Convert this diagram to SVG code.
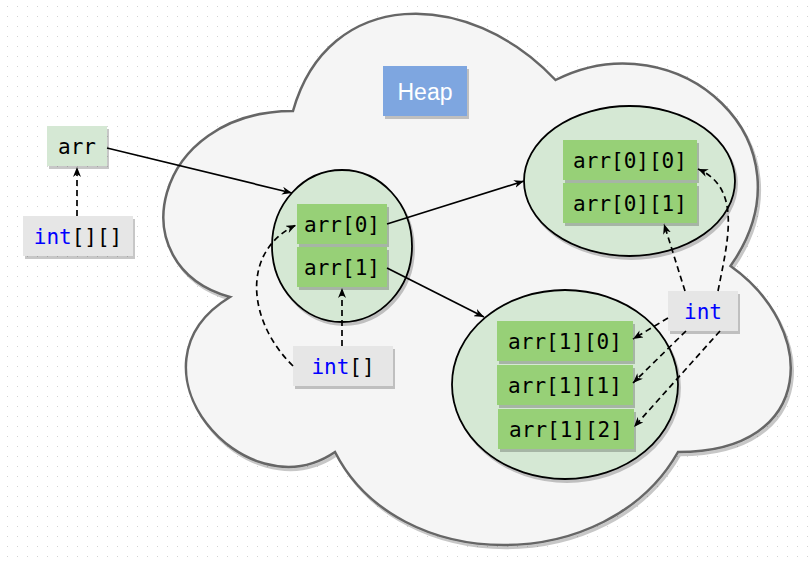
<svg xmlns="http://www.w3.org/2000/svg" width="812" height="562" viewBox="0 0 812 562">
  <defs>
    <pattern id="grid" x="0" y="0" width="10" height="10" patternUnits="userSpaceOnUse">
      <rect x="7" y="6" width="1" height="1" fill="#d4d4d4"/>
    </pattern>
    <filter id="shadow" x="-10%" y="-10%" width="130%" height="130%">
      <feDropShadow dx="2" dy="3" stdDeviation="0.6" flood-color="#000000" flood-opacity="0.22"/>
    </filter>
    <marker id="arrow" viewBox="0 0 10 8" refX="10" refY="4" markerWidth="10" markerHeight="8" markerUnits="userSpaceOnUse" orient="auto">
      <path d="M0,0 L10,4 L0,8 L3,4 Z" fill="#000000"/>
    </marker>
  </defs>
  <style>
    .sh { filter: url(#shadow); }
    .cloud { fill: #f5f5f5; stroke: #666666; stroke-width: 2.5; }
    .ell { fill: #d5e8d4; stroke: #000000; stroke-width: 1.8; }
    .lightgreen { fill: #d5e8d4; }
    .green { fill: #97d077; }
    .gray { fill: #e6e6e6; }
    .blue { fill: #7ea6e0; }
    .mono { font-family: "DejaVu Sans Mono", "Liberation Mono", monospace; font-size: 21px; fill: #000000; text-anchor: middle; }
    .kw { fill: #0000ff; }
    .heap { font-family: "Liberation Sans", Arial, sans-serif; font-size: 23px; fill: #ffffff; text-anchor: middle; }
    .edge { fill: none; stroke: #000000; stroke-width: 1.7; marker-end: url(#arrow); }
    .dash { stroke-dasharray: 6 4; }
  </style>

  <rect x="0" y="0" width="812" height="562" fill="#ffffff"/>
  <rect x="0" y="0" width="812" height="562" fill="url(#grid)"/>

  <g id="heap-cloud">
    <path class="cloud sh" d="M293,111 C153,111 118,266 230,297 C118,365 244,514 335,452 C398,576 608,576 678,452 C818,452 818,328 730.5,266 C818,142 678,18 555.5,80 C468,-13 328,-13 293,111 Z"/>
  </g>

  <g id="heap-label">
    <rect class="blue sh" x="383" y="66" width="84" height="50"/>
    <text class="heap" x="425" y="99.5">Heap</text>
  </g>

  <g id="arr">
    <rect class="lightgreen sh" x="47" y="126" width="60" height="40"/>
    <text class="mono" x="77" y="153.5">arr</text>
  </g>

  <g id="type-int2d">
    <rect class="gray sh" x="23" y="216" width="110" height="40"/>
    <text class="mono" x="78" y="243.5"><tspan class="kw">int</tspan>[][]</text>
  </g>

  <g id="outer-array">
    <ellipse class="ell sh" cx="342" cy="246" rx="70" ry="76"/>
  </g>
  <g id="arr0">
    <rect class="green sh" x="297" y="204" width="90" height="40"/>
    <text class="mono" x="342" y="231.5">arr[0]</text>
  </g>
  <g id="arr1">
    <rect class="green sh" x="297" y="247" width="90" height="40"/>
    <text class="mono" x="342" y="274.5">arr[1]</text>
  </g>

  <g id="type-int1d">
    <rect class="gray sh" x="293" y="346" width="100" height="40"/>
    <text class="mono" x="343" y="373.5"><tspan class="kw">int</tspan>[]</text>
  </g>

  <g id="row0">
    <ellipse class="ell sh" cx="629.5" cy="181" rx="105.5" ry="75"/>
  </g>
  <g id="arr00">
    <rect class="green sh" x="563" y="140" width="134" height="40"/>
    <text class="mono" x="630" y="167.5">arr[0][0]</text>
  </g>
  <g id="arr01">
    <rect class="green sh" x="563" y="183" width="134" height="40"/>
    <text class="mono" x="630" y="210.5">arr[0][1]</text>
  </g>

  <g id="row1">
    <ellipse class="ell sh" cx="565" cy="384.5" rx="113" ry="94.5"/>
  </g>
  <g id="arr10">
    <rect class="green sh" x="497" y="321" width="136" height="40"/>
    <text class="mono" x="565" y="348.5">arr[1][0]</text>
  </g>
  <g id="arr11">
    <rect class="green sh" x="497" y="365" width="136" height="40"/>
    <text class="mono" x="565" y="392.5">arr[1][1]</text>
  </g>
  <g id="arr12">
    <rect class="green sh" x="498" y="409" width="136" height="40"/>
    <text class="mono" x="566" y="436.5">arr[1][2]</text>
  </g>

  <g id="type-int">
    <rect class="gray sh" x="668" y="291" width="70" height="40"/>
    <text class="mono kw" x="703" y="318.5">int</text>
  </g>

  <g id="connectors">
    <path class="edge" d="M107,148 L292,193"/>
    <path class="edge" d="M387,224 L524,181"/>
    <path class="edge" d="M387,268 L484,317"/>
    <path class="edge dash" d="M77,216 L77,167"/>
    <path class="edge dash" d="M342,346 L342,288"/>
    <path class="edge dash" d="M293,366 C248,322 240,252 296,225"/>
    <path class="edge dash" d="M718,291 C728,240 742,188 698,169"/>
    <path class="edge dash" d="M685,291 L664,224"/>
    <path class="edge dash" d="M668,318 L633,339"/>
    <path class="edge dash" d="M686,331 L633,383"/>
    <path class="edge dash" d="M720,331 L634,427"/>
  </g>
</svg>
